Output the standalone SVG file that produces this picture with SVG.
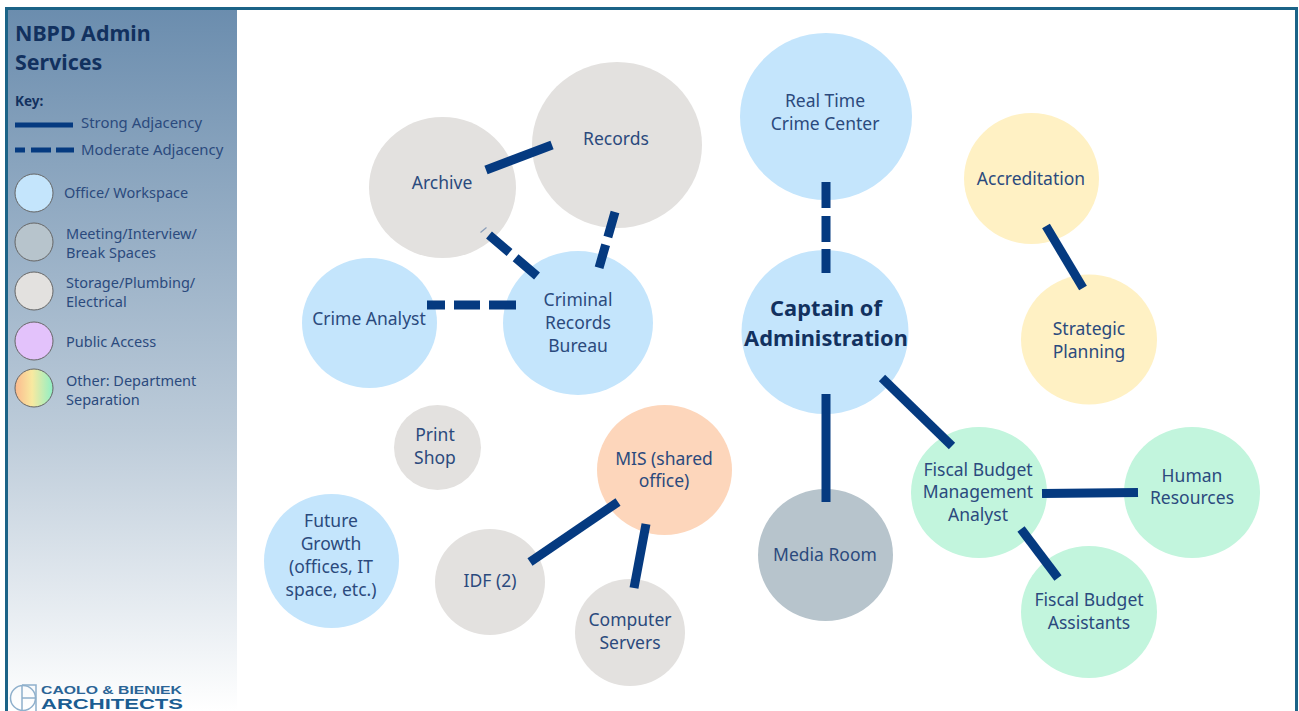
<svg xmlns="http://www.w3.org/2000/svg" width="1299" height="711" viewBox="0 0 1299 711">
<style>
text{font-family:"Noto Sans","Open Sans","DejaVu Sans",sans-serif;fill:#2b4a7d;font-size:17.500px;text-anchor:middle}
.k{font-size:14.500px;text-anchor:start}
.a{font-size:14.900px}
.t{font-size:21.400px;font-weight:700;fill:#12315f;text-anchor:start}
.c{font-size:21.800px;font-weight:700;fill:#12315f}
.blue{fill:#c4e5fc}.gray{fill:#e3e1df}.slate{fill:#b7c4cc}.yel{fill:#fff1c4}.mint{fill:#c2f5dd}.org{fill:#fdd6bb}
.key{stroke:#666;stroke-width:1}
.s{stroke:#053a80;stroke-width:9;fill:none}
.l{font-family:"Liberation Sans",sans-serif;font-weight:700;text-anchor:start}
</style>
<defs>
<linearGradient id="side" x1="0" y1="0" x2="0" y2="1"><stop offset="0" stop-color="#6b8dae"/><stop offset=".6" stop-color="#bccbd9"/><stop offset="1" stop-color="#ffffff"/></linearGradient>
<linearGradient id="rain" x1="0" y1="0" x2="1" y2="0"><stop offset="0" stop-color="#fbb98e"/><stop offset=".45" stop-color="#f8e9a0"/><stop offset="1" stop-color="#8ff0c6"/></linearGradient>
</defs>
<rect width="1299" height="711" fill="#fff"/>
<rect x="8" y="9" width="229" height="702" fill="url(#side)"/>
<path d="M6.500 711V8.500H1296.500V711" fill="none" stroke="#1b6387" stroke-width="3"/>
<g id="key">
<text class="t" x="15" y="41">NBPD Admin</text>
<text class="t" x="15" y="70">Services</text>
<text class="k" x="15" y="106" style="font-weight:700;font-size:13.500px;fill:#12315f">Key:</text>
<path class="s" style="stroke-width:5" d="M15 125H73"/>
<path class="s" style="stroke-width:5" d="M15 150H74" stroke-dasharray="10 6 20 5 18"/>
<text class="k a" x="81" y="128">Strong Adjacency</text>
<text class="k a" x="81" y="155">Moderate Adjacency</text>
<circle class="key blue" cx="34" cy="193" r="19"/><text class="k" x="64" y="198">Office/ Workspace</text>
<circle class="key slate" cx="34" cy="242" r="19"/><text class="k" x="66" y="239">Meeting/Interview/</text><text class="k" x="66" y="258">Break Spaces</text>
<circle class="key gray" cx="34" cy="291" r="19"/><text class="k" x="66" y="288">Storage/Plumbing/</text><text class="k" x="66" y="307">Electrical</text>
<circle class="key" fill="#e3c2fb" cx="34" cy="341" r="19"/><text class="k" x="66" y="347">Public Access</text>
<circle class="key" fill="url(#rain)" cx="34" cy="388" r="19"/><text class="k" x="66" y="386">Other: Department</text><text class="k" x="66" y="405">Separation</text>
</g>
<g id="logo">
<circle cx="23" cy="698" r="12.500" fill="none" stroke="#8fb0cc" stroke-width="1.500"/>
<path d="M22 685V711M22 698H35M22 685H36V711" fill="none" stroke="#8fb0cc" stroke-width="1.500"/>
<text class="l" x="41" y="694" textLength="141" lengthAdjust="spacingAndGlyphs" style="font-size:11px;fill:#2a6496">CAOLO &amp; BIENIEK</text>
<text class="l" x="41" y="709" textLength="142" lengthAdjust="spacingAndGlyphs" style="font-size:15.500px;fill:#1b5d92">ARCHITECTS</text>
</g>
<g id="records"><ellipse class="gray" cx="617" cy="145" rx="85" ry="83"/><text x="616" y="145">Records</text></g>
<g id="archive"><ellipse class="gray" cx="442.500" cy="187.500" rx="73.500" ry="70.500"/><text x="442" y="189">Archive</text></g>
<g id="crime-analyst"><ellipse class="blue" cx="369.500" cy="323" rx="67.500" ry="65"/><text x="369" y="325">Crime Analyst</text></g>
<g id="criminal-records"><ellipse class="blue" cx="578" cy="323" rx="75" ry="72"/><text x="578" y="306">Criminal</text><text x="578" y="329">Records</text><text x="578" y="352">Bureau</text></g>
<g id="rtcc"><ellipse class="blue" cx="826" cy="116.500" rx="86" ry="83.500"/><text x="825" y="107">Real Time</text><text x="825" y="130">Crime Center</text></g>
<g id="captain"><ellipse class="blue" cx="825" cy="332" rx="83.500" ry="82"/><text class="c" x="826" y="316">Captain of</text><text class="c" x="826" y="346">Administration</text></g>
<g id="accreditation"><ellipse class="yel" cx="1031.500" cy="178.500" rx="67.500" ry="65.500"/><text x="1031" y="185">Accreditation</text></g>
<g id="strategic"><ellipse class="yel" cx="1089" cy="339.500" rx="68" ry="65"/><text x="1089" y="335">Strategic</text><text x="1089" y="358">Planning</text></g>
<g id="fiscal"><ellipse class="mint" cx="979" cy="492.500" rx="68" ry="65.500"/><text x="978" y="476">Fiscal Budget</text><text x="978" y="498">Management</text><text x="978" y="521">Analyst</text></g>
<g id="hr"><ellipse class="mint" cx="1192" cy="492.500" rx="68" ry="65.500"/><text x="1192" y="482">Human</text><text x="1192" y="504">Resources</text></g>
<g id="assistants"><ellipse class="mint" cx="1089" cy="612" rx="68" ry="66"/><text x="1089" y="606">Fiscal Budget</text><text x="1089" y="629">Assistants</text></g>
<g id="media"><ellipse class="slate" cx="825.500" cy="555" rx="67.500" ry="66"/><text x="825" y="561">Media Room</text></g>
<g id="mis"><ellipse class="org" cx="664.500" cy="470" rx="67.500" ry="65"/><text x="664" y="465">MIS (shared</text><text x="664" y="487">office)</text></g>
<g id="print"><ellipse class="gray" cx="437.500" cy="447.500" rx="43.500" ry="42.500"/><text x="435" y="441">Print</text><text x="435" y="464">Shop</text></g>
<g id="idf"><ellipse class="gray" cx="490" cy="582" rx="55" ry="53"/><text x="490" y="587">IDF (2)</text></g>
<g id="servers"><ellipse class="gray" cx="630" cy="632.500" rx="55" ry="53.500"/><text x="630" y="626">Computer</text><text x="630" y="649">Servers</text></g>
<g id="future"><ellipse class="blue" cx="331.500" cy="561" rx="67.500" ry="67"/><text x="331" y="527">Future</text><text x="331" y="550">Growth</text><text x="331" y="573">(offices, IT</text><text x="331" y="596">space, etc.)</text></g>
<g id="connectors">
<path class="s" d="M486 170L552 145"/>
<path class="s" d="M615 212L599 268" stroke-dasharray="26 8 24"/>
<path class="s" d="M489 235L537 276" stroke-dasharray="27 8 29"/>
<path class="s" d="M427 305H516" stroke-dasharray="18 9 26 9 27"/>
<path class="s" d="M826 182V273" stroke-dasharray="26 8 26 7 24"/>
<path d="M480.500 232.500L486.500 227.500" stroke="#8a9db8" stroke-width="1.200" fill="none"/>
<path class="s" d="M1046 226L1083 288"/>
<path class="s" d="M882 378L952 446"/>
<path class="s" d="M826 394V502"/>
<path class="s" d="M1042 493.500L1138 492.500"/>
<path class="s" d="M1021 529L1058 578"/>
<path class="s" d="M618 502L530 562"/>
<path class="s" d="M646 524L634 588"/>
</g>
</svg>
